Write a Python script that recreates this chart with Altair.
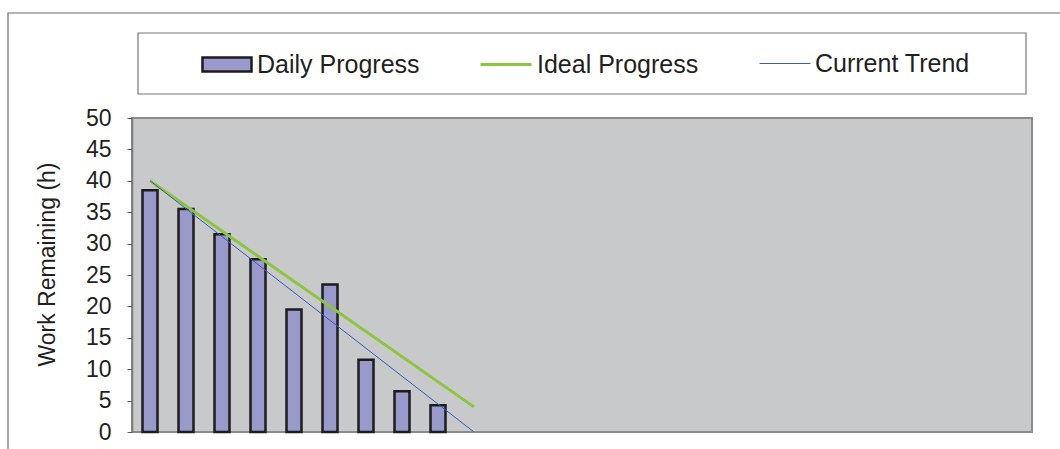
import altair as alt
import pandas as pd

# ---- data ----
bar_days = [0, 1, 2, 3, 4, 5, 6, 7, 8]
bar_values = [38.5, 35.5, 31.5, 27.5, 19.5, 23.5, 11.5, 6.5, 4.25]

ideal_days = [0, 9]
ideal_values = [40, 4]

trend_days = [0, 9]
trend_values = [40, 0]

y_ticks = [0, 5, 10, 15, 20, 25, 30, 35, 40, 45, 50]
x_domain = [-0.5, 24.5]  # 25 day slots on the category axis

FONT = "Liberation Sans"
TXT = "#231f20"

bars_df = pd.DataFrame({"day": bar_days, "value": bar_values, "series": ["Daily Progress"] * len(bar_days)})
ideal_df = pd.DataFrame({"day": ideal_days, "value": ideal_values, "series": ["Ideal Progress"] * len(ideal_days)})
trend_df = pd.DataFrame({"day": trend_days, "value": trend_values, "series": ["Current Trend"] * len(trend_days)})

x_enc = alt.X("day:Q", scale=alt.Scale(domain=x_domain, nice=False, zero=False, padding=0), axis=None)
y_enc = alt.Y(
    "value:Q",
    scale=alt.Scale(domain=[0, 50], nice=False, padding=0),
    axis=alt.Axis(
        values=y_ticks,
        tickCount=11,
        labelOverlap=False,
        labelSeparation=0,
        title="Work Remaining (h)",
        titleY=146,
    ),
)

one = alt.Data(values=[{"k": 1}])

outer_frame = alt.Chart(one).mark_rect(fillOpacity=0, stroke="#6d6d6d", strokeWidth=1.2).encode(
    x=alt.value(-124), x2=alt.value(1100), y=alt.value(-105), y2=alt.value(400)
)

legend_box = alt.Chart(one).mark_rect(fill="white", stroke="#777777", strokeWidth=1.2).encode(
    x=alt.value(6), x2=alt.value(894), y=alt.value(-85), y2=alt.value(-24)
)

LEG = dict(title=None, orient="none", padding=0, labelFont=FONT, labelFontSize=25,
           labelColor=TXT, labelOffset=4, labelLimit=400)

bars = alt.Chart(bars_df).mark_bar(size=15, stroke="#1c1c1c", strokeWidth=2.5).encode(
    fill=alt.Fill(
        "series:N",
        scale=alt.Scale(domain=["Daily Progress"], range=["#9999cc"]),
        legend=alt.Legend(
            legendX=69,
            legendY=-79.5,
            symbolType="M-1,-0.286H1V0.286H-1Z",
            symbolSize=2401,
            symbolStrokeColor="#1c1c1c",
            symbolStrokeWidth=2.5,
            **LEG,
        ),
    ),
)

ideal = alt.Chart(ideal_df).mark_line(strokeWidth=3).encode(
    stroke=alt.Stroke(
        "series:N",
        scale=alt.Scale(domain=["Ideal Progress"], range=["#8cc63e"]),
        legend=alt.Legend(
            legendX=347,
            legendY=-80.5,
            symbolType="stroke",
            symbolSize=2601,
            symbolStrokeWidth=3,
            **LEG,
        ),
    ),
)

trend = alt.Chart(trend_df).mark_line(strokeWidth=1).encode(
    stroke=alt.Stroke(
        "series:N",
        scale=alt.Scale(domain=["Current Trend"], range=["#3a5cb8"]),
        legend=alt.Legend(
            legendX=627,
            legendY=-80.5,
            symbolType="stroke",
            symbolSize=2601,
            symbolStrokeWidth=1,
            **LEG,
        ),
    ),
)

data_layer = (
    alt.layer(bars, ideal, trend)
    .encode(x=x_enc, y=y_enc)
    .resolve_scale(stroke="independent")
)

chart = (
    alt.layer(outer_frame, legend_box, data_layer)
    .resolve_scale(stroke="independent")
    .properties(
        width=900,
        height=314,
        autosize=alt.AutoSizeParams(type="none"),
        padding={"left": 132, "top": 118, "right": 28, "bottom": 17},
        background="white",
    )
    .configure_view(fill="#c8c9cb", stroke="#8c8c8c", strokeWidth=2)
    .configure_axisY(
        grid=False,
        domainColor="#7a7a7a",
        domainWidth=1.5,
        tickColor="#555555",
        tickSize=5,
        labelFont=FONT,
        labelFontSize=23,
        labelColor=TXT,
        labelPadding=16,
        labelOverlap=False,
        labelFlush=False,
        titleFont=FONT,
        titleFontSize=23,
        titleFontWeight="normal",
        titleColor=TXT,
        titlePadding=26,
        zindex=1,
    )
)

chart.save("out.html", embed_options={"renderer": "svg", "actions": False})
